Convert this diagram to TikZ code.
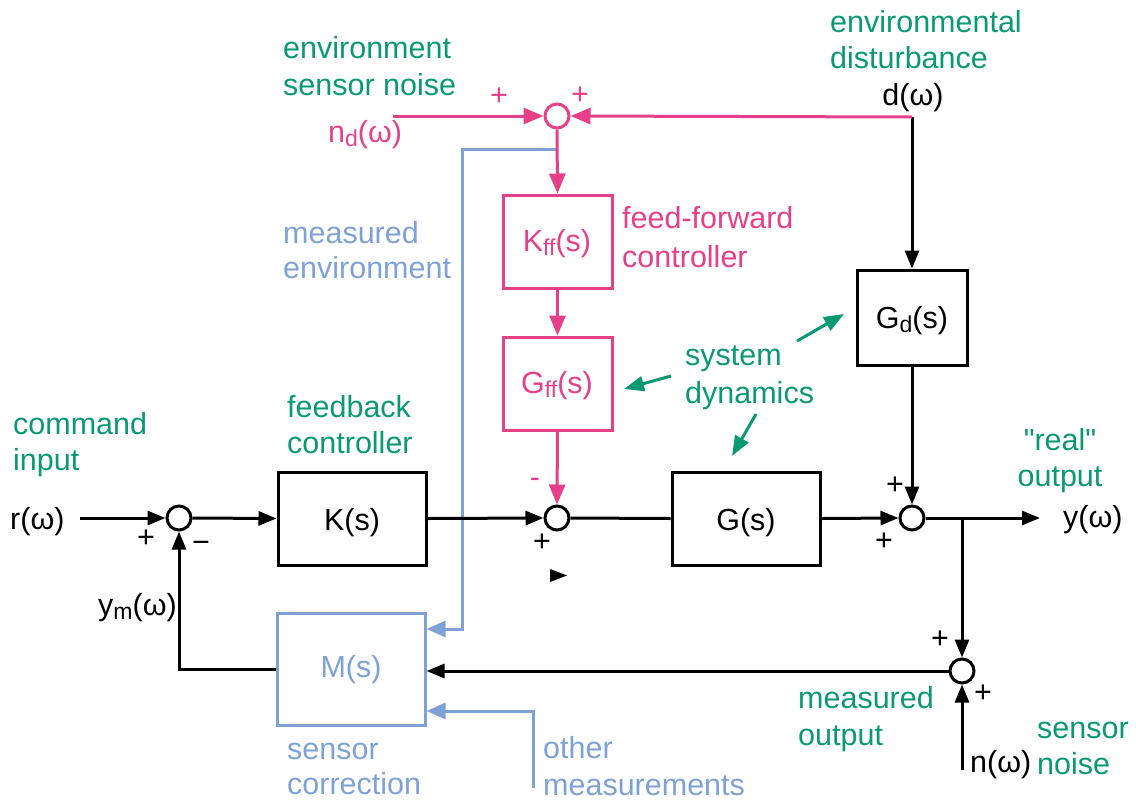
\documentclass[tikz,border=0pt]{standalone}
\usepackage{fontspec}
\setmainfont{Liberation Sans}
\newfontfamily\qf{Liberation Sans}
\usetikzlibrary{arrows.meta}
\definecolor{grn}{HTML}{0A9A73}
\definecolor{pnk}{HTML}{E6408A}
\definecolor{blu}{HTML}{7FA2D6}
\newcommand\sbx[1]{\raisebox{-0.16em}{\fontsize{23}{23}\selectfont #1}}
\begin{document}
\begin{tikzpicture}[x=1pt,y=-1pt,
  font=\fontsize{30.5}{37}\selectfont,
  ln/.style={line width=3pt},
  arr/.style={ln,-{Triangle[length=18pt,width=14pt]}},
  parr/.style={ln,color=pnk,-{Triangle[length=20pt,width=16pt]}},
  barr/.style={ln,color=blu,-{Triangle[length=19pt,width=16pt]}},
  garr/.style={ln,color=grn,-{Triangle[length=20pt,width=15pt]}},
  blk/.style={draw,line width=3pt,inner sep=0,fill=white},
  sumj/.style={circle,draw,line width=3pt,minimum size=24pt,inner sep=0,fill=white},
  txt/.style={inner sep=0,text height=21pt,text depth=1pt},
  lt/.style={txt,anchor=west},
  sgn/.style={inner sep=0}]
\useasboundingbox (0,0) rectangle (1136,801);

% coordinates
\coordinate (rIn) at (80,518);
\coordinate (yOut) at (1040,518);
\coordinate (br) at (962,518);
\coordinate (nIn) at (962,770);
\coordinate (dTop) at (912,117);
\coordinate (ndIn) at (393,116);
\coordinate (bj) at (557,149);
\coordinate (bc) at (462,149);
\coordinate (om) at (533,788);

% boxes
\node[blk,minimum width=148pt,minimum height=93pt] (K) at (352,518.5) {};
\node[blk,minimum width=148pt,minimum height=93pt] (G) at (746,518.5) {};
\node[blk,draw=pnk,minimum width=109pt,minimum height=93pt] (Kff) at (557.5,241.5) {};
\node[blk,draw=pnk,minimum width=109pt,minimum height=93pt] (Gff) at (557.5,383.5) {};
\node[blk,minimum width=110pt,minimum height=95pt] (Gd) at (912,317.5) {};
\node[blk,draw=blu,minimum width=148pt,minimum height=112pt] (M) at (351,669) {};

% measurements (blue), drawn first so black lines cross over them
\draw[barr] (bj) -- (bc) |- ([yshift=40pt]M.east);
\draw[barr] (om) |- ([yshift=-42pt]M.east);

\node[txt] (Kt) at (352,520) {K(s)};
\node[txt] (Gt) at (746,520) {G(s)};
\node[txt,text=pnk] (Kfft) at (557,241) {K\sbx{ff}(s)};
\node[txt,text=pnk] (Gfft) at (557,383) {G\sbx{ff}(s)};
\node[txt] (Gdt) at (912,318) {G\sbx{d}(s)};
\node[txt,text=blu] (Mt) at (351,667) {M(s)};

% summing junctions
\node[sumj] (sA) at (179,518) {};
\node[sumj] (sB) at (557,518) {};
\node[sumj] (sC) at (912,518) {};
\node[sumj] (sD) at (962,671) {};
\node[sumj,draw=pnk] (sT) at (557,116) {};

% main loop
\draw[arr] (rIn) -- (sA.west);
\draw[arr] (sA.east) -- (K.west);
\draw[arr] (K.east) -- (sB.west);
\draw[ln] (sB.east) -- (G.west);
\draw[arr] (G.east) -- (sC.west);
\draw[arr] (sC.east) -- (yOut);
\draw[arr] (br) -- (sD.north);
\draw[arr] (sD.west) -- (sD.west -| M.east);
\draw[arr] (M.west) -| (sA.south);
\draw[arr] (nIn) -- (sD.south);
\draw[arr] (Gd.south) -- (sC.north);
\draw[arr] (dTop) -- (Gd.north);

% feed-forward (pink)
\draw[parr] (dTop) -- (sT.east);
\draw[parr] (ndIn) -- (sT.west);
\draw[parr] (sT.south) -- (Kff.north);
\draw[parr] (Kff.south) -- (Gff.north);
\draw[parr] (Gff.south) -- (sB.north);

% stray arrowhead
\fill (550,569) -- (567,575.5) -- (550,582) -- cycle;

% green pointer arrows
\coordinate (g1s) at (671,376); \coordinate (g1e) at (624,389);
\coordinate (g2s) at (797,341); \coordinate (g2e) at (844,314);
\coordinate (g3s) at (756,414); \coordinate (g3e) at (732,456);
\draw[garr] (g1s) -- (g1e);
\draw[garr] (g2s) -- (g2e);
\draw[garr] (g3s) -- (g3e);

% signs
\node[sgn,text=pnk] (pT1) at (499,97) {+};
\node[sgn,text=pnk] (pT2) at (580,96) {+};
\node[sgn,text=pnk] (mB) at (535,483) {-};
\node[sgn] (pB) at (542,543) {+};
\node[sgn] (pA) at (146,539) {+};
\node[sgn] (mA) at (201,547) {−};
\node[sgn] (pC1) at (895,486) {+};
\node[sgn] (pC2) at (884,542) {+};
\node[sgn] (pD1) at (940,640) {+};
\node[sgn] (pD2) at (983,694) {+};

% texts
\node[lt,text=grn] (t1) at (283,48) {environment};
\node[lt,text=grn] (t2) at (283,85) {sensor noise};
\node[lt,text=grn] (t3) at (830,22) {environmental};
\node[lt,text=grn] (t4) at (830,58) {disturbance};
\node[txt] (dw) at (913,95) {d(ω)};
\node[lt,text=pnk] (ndw) at (328,132) {n\sbx{d}(ω)};
\node[lt,text=blu] (t5) at (283,233) {measured};
\node[lt,text=blu] (t6) at (283,268) {environment};
\node[lt,text=pnk] (t7) at (622,218) {feed-forward};
\node[lt,text=pnk] (t8) at (622,257) {controller};
\node[lt,text=grn] (t9) at (685,355) {system};
\node[lt,text=grn] (t10) at (685,393) {dynamics};
\node[lt,text=grn] (t11) at (13,424) {command};
\node[lt,text=grn] (t12) at (13,460) {input};
\node[lt,text=grn] (t13) at (287,407) {feedback};
\node[lt,text=grn] (t14) at (287,443) {controller};
\node[lt] (rw) at (10,519) {r(ω)};
\node[lt] (ymw) at (98,605) {y\sbx{m}(ω)};
\node[txt,text=grn] (t15) at (1060,440) {\qf "real"};
\node[txt,text=grn] (t16) at (1060,476) {output};
\node[lt] (yw) at (1063,517) {y(ω)};
\node[lt,text=grn] (t17) at (798,698) {measured};
\node[lt,text=grn] (t18) at (798,735) {output};
\node[lt,text=grn] (t19) at (1037,728) {sensor};
\node[lt,text=grn] (t20) at (1037,764) {noise};
\node[lt] (nw) at (970,762) {n(ω)};
\node[lt,text=blu] (t21) at (287,749) {sensor};
\node[lt,text=blu] (t22) at (287,784) {correction};
\node[lt,text=blu] (t23) at (543,748) {other};
\node[lt,text=blu] (t24) at (543,785) {measurements};
\end{tikzpicture}
\end{document}
